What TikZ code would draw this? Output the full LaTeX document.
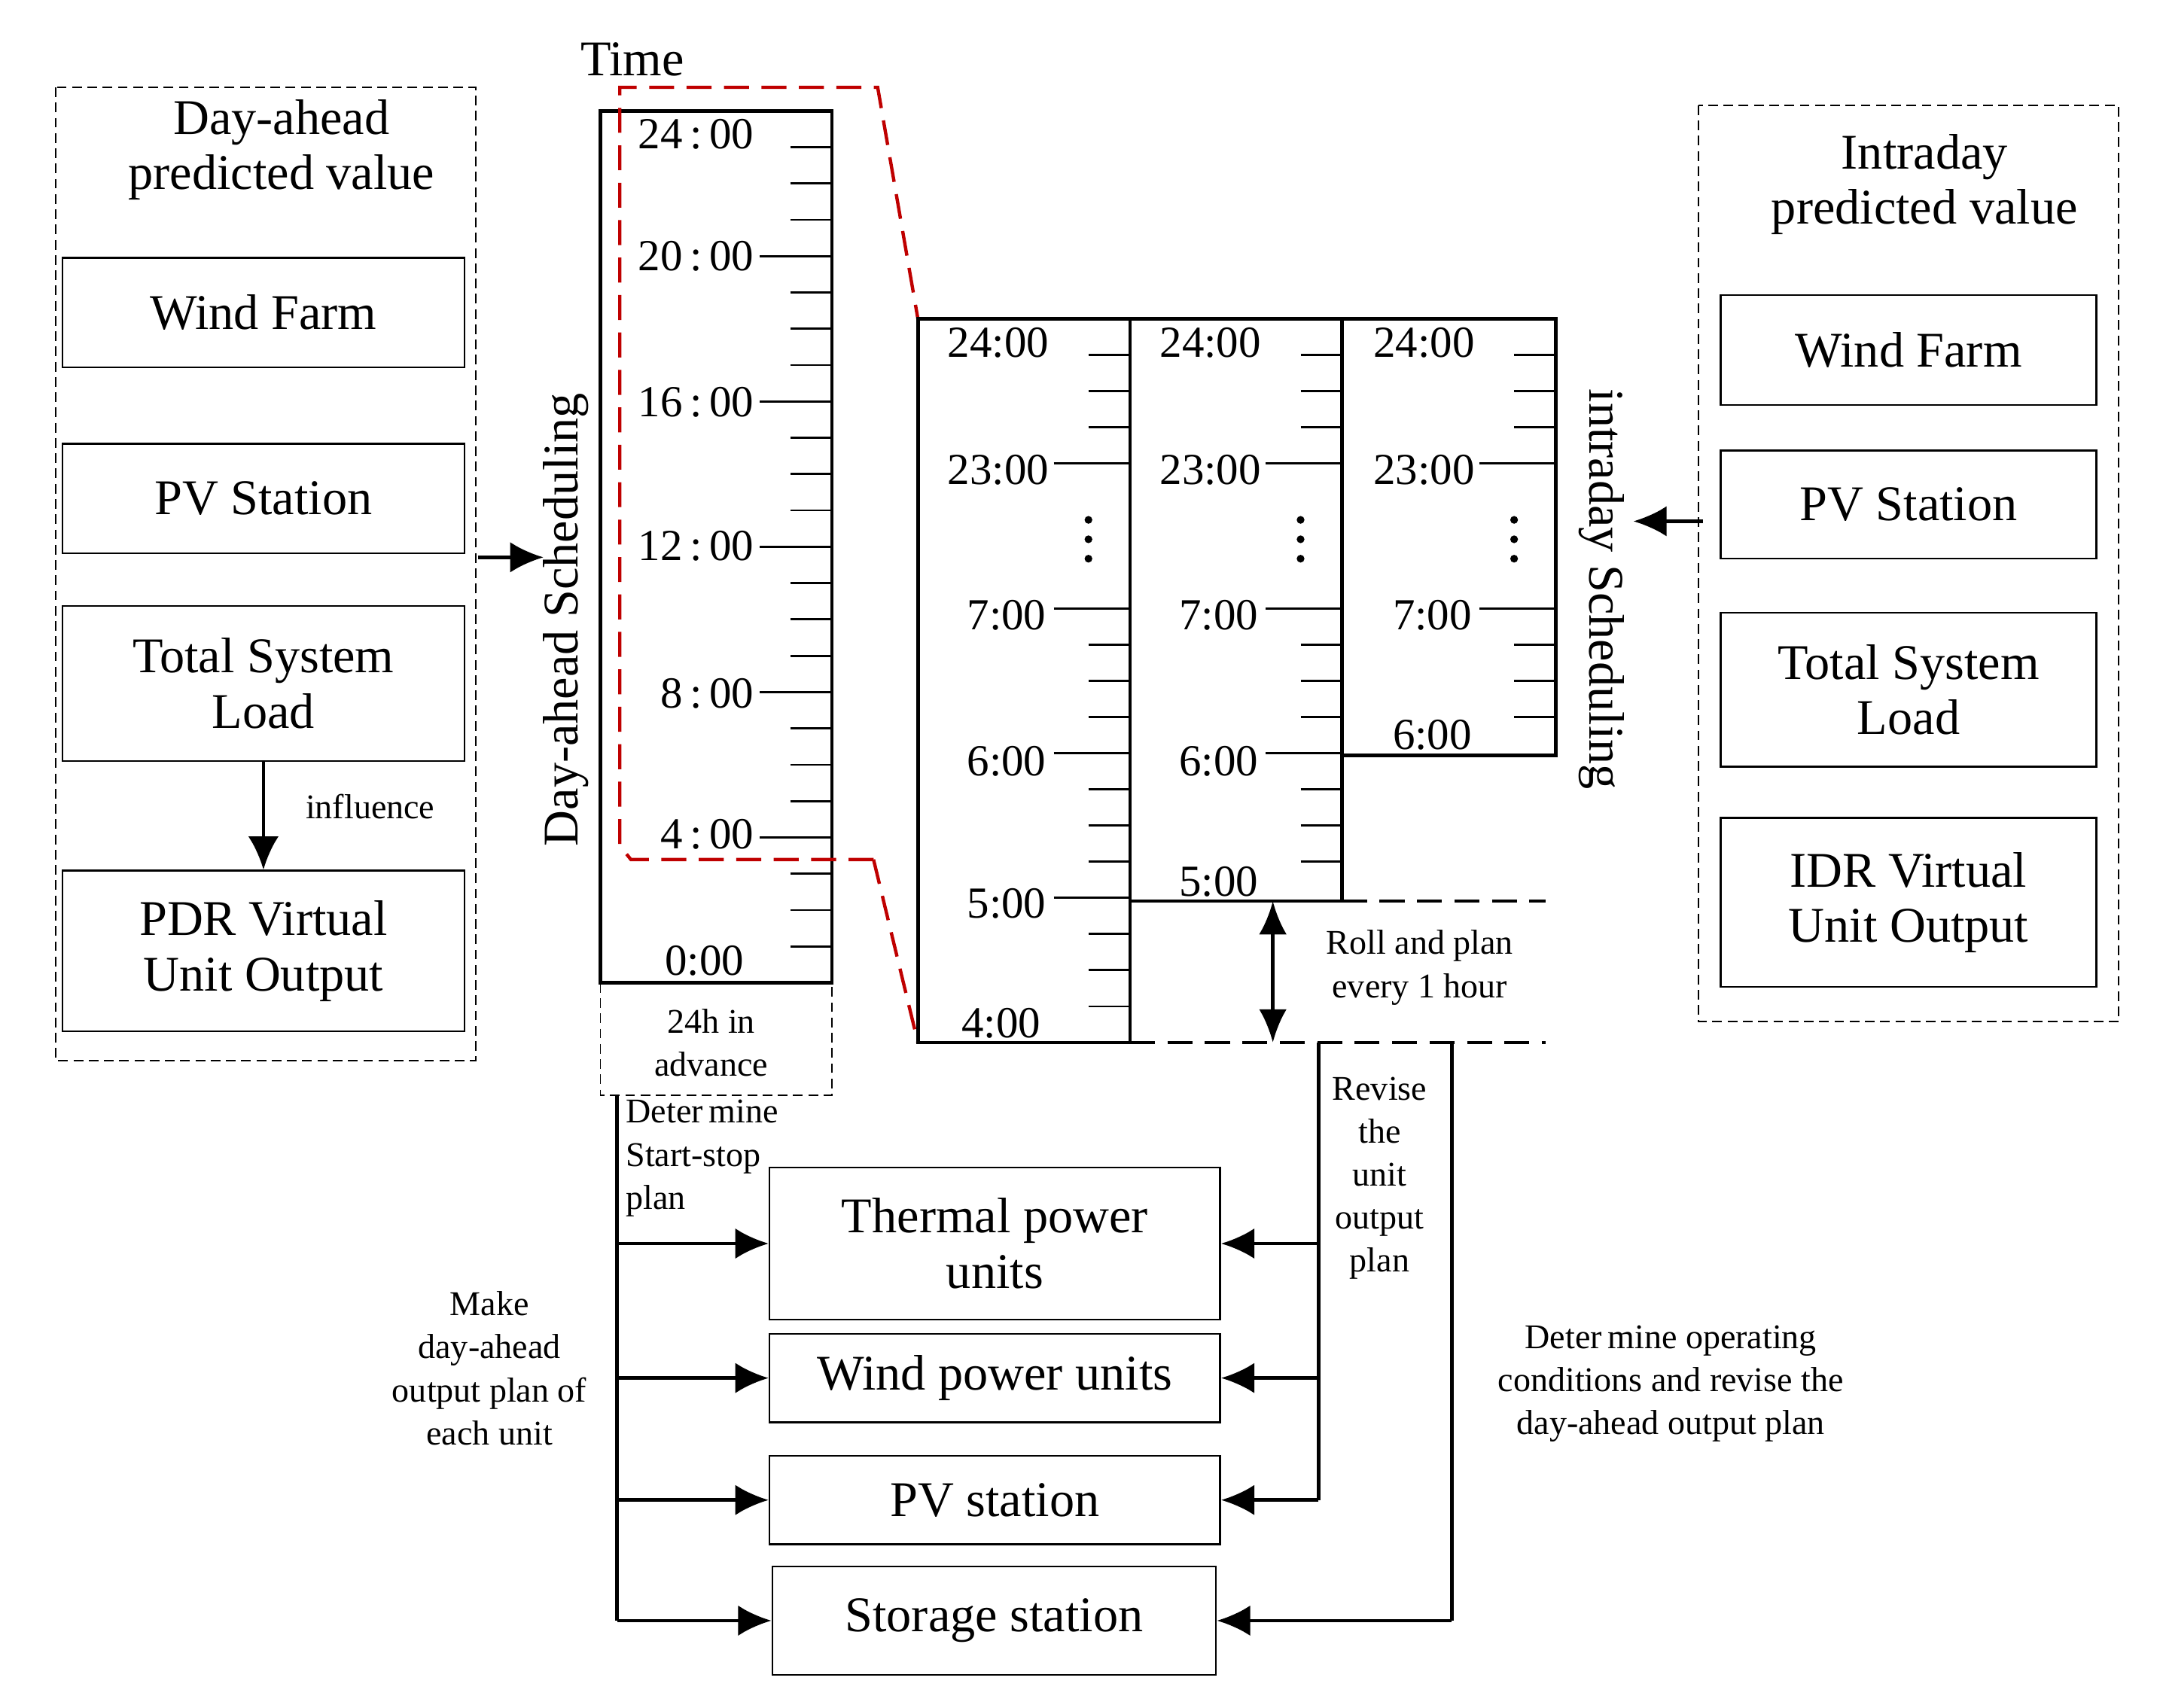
\documentclass[tikz,border=0pt]{standalone}
\usepackage{fontspec}
\setmainfont{Liberation Serif}
\usetikzlibrary{arrows.meta}
\begin{document}
\begin{tikzpicture}[x=1pt,y=-1pt,
 big/.style={font=\fontsize{36}{40}\selectfont},
 tk/.style={font=\fontsize{32}{34}\selectfont},
 sm/.style={font=\fontsize{25}{31}\selectfont,align=center},
 box/.style={draw,line width=1.3pt},
 dbox/.style={draw,line width=1pt,dash pattern=on 7pt off 4pt},
 col/.style={line width=2.6pt},
 arr/.style={line width=2.6pt,-{Latex[length=24pt,width=22pt]}},
 ln/.style={line width=2.6pt}]
\useasboundingbox (0,0) rectangle (1560,1232);
% left panel
\draw[dbox] (40,63) rectangle (343,765);
\node[big,align=center] (lt) at (203,108) {Day-ahead\\predicted value};
\node[box,big,minimum width=290pt,minimum height=79pt] (lwf) at (190,225.5) {Wind Farm};
\node[box,big,minimum width=290pt,minimum height=79pt] (lpv) at (190,359.5) {PV Station};
\node[box,big,minimum width=290pt,minimum height=112pt,align=center] (ltl) at (190,493) {Total System\\Load};
\node[box,big,minimum width=290pt,minimum height=116pt,align=center] (lpdr) at (190,686) {PDR Virtual\\Unit Output};
\draw[arr] (ltl.south) -- (lpdr.north);
\node[sm] (infl) at (267,582) {influence};
\coordinate (a1) at (345,402); \coordinate (a2) at (392,402);
\draw[arr] (a1) -- (a2);
% day-ahead column
\node[big] (time) at (456,43) {Time};
\draw[col] (433,80) rectangle (600,709);
\foreach \k in {1,...,23}{\draw[line width=1.5pt] (570,80+\k*26.2) -- (600,80+\k*26.2);}
\foreach \k in {4,8,12,16,20}{\draw[line width=1.5pt] (548,80+\k*26.2) -- (600,80+\k*26.2);}
\node[tk] (d24) at (502,97) {24\,:\,00};
\node[tk] (d20) at (502,185) {20\,:\,00};
\node[tk] (d16) at (502,290) {16\,:\,00};
\node[tk] (d12) at (502,394) {12\,:\,00};
\node[tk] (d8) at (510,500) {8\,:\,00};
\node[tk] (d4) at (510,602) {4\,:\,00};
\node[tk] (d0) at (508,693) {0:00};
\node[big,rotate=90] (das) at (408,447) {Day-ahead Scheduling};
\draw[dbox] (433,709) rectangle (600,790);
\node[sm] (adv) at (513,752) {24h in\\advance};
% red dashed
\draw[red!75!black,line width=2.4pt,dash pattern=on 18pt off 9pt] (630,620) -- (455,620) -- (447,610) -- (447,63) -- (633,63) -- (662,230);
\draw[red!75!black,line width=2.4pt,dash pattern=on 18pt off 9pt] (630,620) -- (662,752);
% intraday columns
\draw[col] (662,230) rectangle (815,752);
\draw[col] (815,230) -- (968,230) -- (968,650) -- (815,650);
\draw[col] (968,230) -- (1122,230) -- (1122,545) -- (968,545);
\foreach \x/\n in {815/20,968/16,1122/12}{
 \foreach \k in {1,2,3,9,10,11,13,14,15,17,18,19}{\ifnum\k<\n \draw[line width=1.5pt] (\x-30,230+\k*26.1) -- (\x,230+\k*26.1);\fi}
 \foreach \k in {4,8,12,16}{\ifnum\k<\n \draw[line width=1.5pt] (\x-55,230+\k*26.1) -- (\x,230+\k*26.1);\fi}
 \foreach \yy in {375,389,403}{\fill (\x-30,\yy) circle (2.8pt);}
}
\foreach \x in {720,873,1027}{
 \node[tk] at (\x,247) {24:00};
 \node[tk] at (\x,339) {23:00};
 \node[tk] at (\x+6,444) {7:00};
}
\node[tk] (c16) at (726,549) {6:00};
\node[tk] (c26) at (879,549) {6:00};
\node[tk] (c36) at (1033,530) {6:00};
\node[tk] (c15) at (726,652) {5:00};
\node[tk] (c25) at (879,636) {5:00};
\node[tk] (c14) at (722,738) {4:00};
\coordinate (e1) at (968,650); \coordinate (e2) at (1115,650);
\coordinate (e3) at (815,752); \coordinate (e4) at (1115,752);
\draw[ln,dash pattern=on 18pt off 9pt] (e1) -- (e2);
\draw[ln,dash pattern=on 18pt off 9pt] (e3) -- (e4);
\coordinate (r1) at (918,650); \coordinate (r2) at (918,752);
\draw[ln,{Latex[length=24pt,width=20pt]}-{Latex[length=24pt,width=20pt]}] (r1) -- (r2);
\node[sm] (roll) at (1024,698) {Roll and plan\\every 1 hour};
\node[big,rotate=-90] (ids) at (1155,425) {intraday Scheduling};
\coordinate (b1) at (1228,376); \coordinate (b2) at (1178,376);
\draw[arr] (b1) -- (b2);
% right panel
\draw[dbox] (1225,76) rectangle (1528,737);
\node[big,align=center] (rt) at (1388,133) {Intraday\\predicted value};
\node[box,big,minimum width=271pt,minimum height=79pt] (rwf) at (1376.5,252.5) {Wind Farm};
\node[box,big,minimum width=271pt,minimum height=78pt] (rpv) at (1376.5,364) {PV Station};
\node[box,big,minimum width=271pt,minimum height=111pt,align=center] (rtl) at (1376.5,497.5) {Total System\\Load};
\node[box,big,minimum width=271pt,minimum height=122pt,align=center] (ridr) at (1376.5,651) {IDR Virtual\\Unit Output};
% bottom units
\node[box,big,minimum width=325pt,minimum height=110pt,align=center] (th) at (717.5,897) {Thermal power\\units};
\node[box,big,minimum width=325pt,minimum height=64pt] (wp) at (717.5,994) {Wind power units};
\node[box,big,minimum width=325pt,minimum height=64pt] (pv) at (717.5,1082) {PV station};
\node[box,big,minimum width=320pt,minimum height=78pt] (st) at (717,1169) {Storage station};
\coordinate (l0) at (445,790); \coordinate (l4) at (445,1169);
\draw[ln] (l0) -- (l4);
\draw[arr] (445,897) -- (th.west);
\draw[arr] (445,994) -- (wp.west);
\draw[arr] (445,1082) -- (pv.west);
\draw[arr] (l4) -- (st.west);
\node[sm,align=left,anchor=north west] (det) at (448,790) {Deter\,mine\\Start-stop\\plan};
\node[sm] (make) at (353,987) {Make\\day-ahead\\output plan of\\each unit};
\coordinate (v0) at (951,752); \coordinate (v1) at (951,1082);
\draw[ln] (v0) -- (v1);
\draw[arr] (951,897) -- (th.east);
\draw[arr] (951,994) -- (wp.east);
\draw[arr] (v1) -- (pv.east);
\node[sm] (rev) at (995,850) {Revise\\the\\unit\\output\\plan};
\coordinate (w0) at (1047,752); \coordinate (w1) at (1047,1169);
\draw[ln] (w0) -- (w1);
\draw[arr] (w1) -- (st.east);
\node[sm] (doc) at (1205,998) {Deter\,mine operating\\conditions and revise the\\day-ahead output plan};
\end{tikzpicture}
\end{document}
